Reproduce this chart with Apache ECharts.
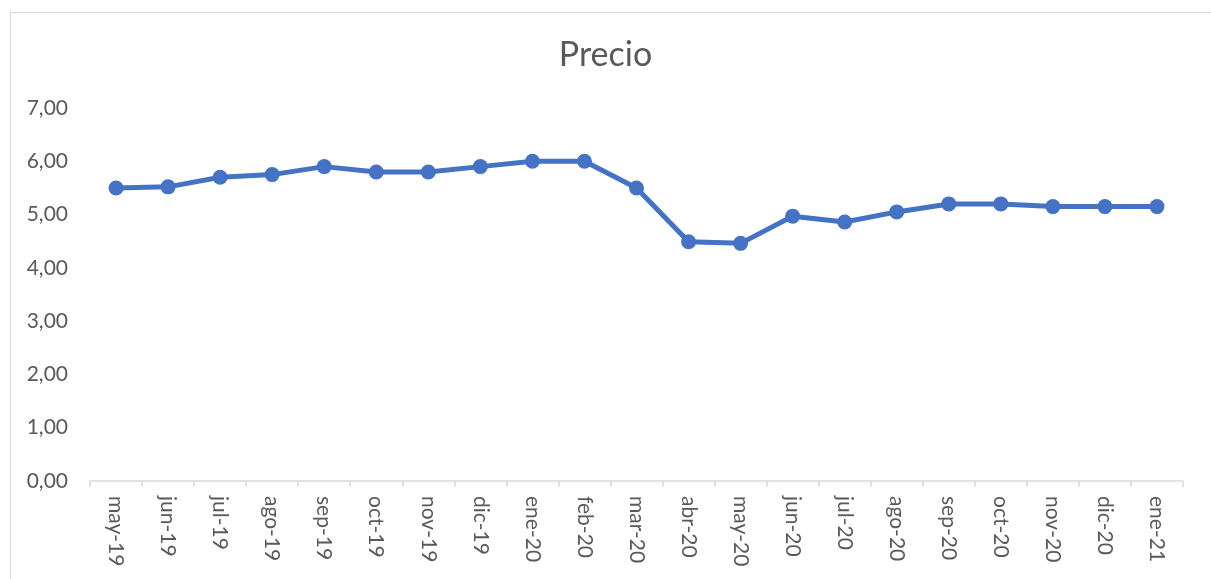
<!DOCTYPE html>
<html>
<head>
<meta charset="utf-8">
<script src="https://cdn.jsdelivr.net/npm/echarts@6/dist/echarts.min.js"></script>
<style>
html,body{margin:0;padding:0;background:#fff;}
#chart{width:1211px;height:579px;}
</style>
</head>
<body>
<div id="chart"></div>
<script>
const categories = ['may-19','jun-19','jul-19','ago-19','sep-19','oct-19','nov-19','dic-19','ene-20','feb-20','mar-20','abr-20','may-20','jun-20','jul-20','ago-20','sep-20','oct-20','nov-20','dic-20','ene-21'];
const precio = [5.50,5.52,5.70,5.75,5.90,5.80,5.80,5.90,6.00,6.00,5.50,4.49,4.46,4.97,4.86,5.05,5.20,5.20,5.15,5.15,5.15];
const yTickLabels = ['0,00','1,00','2,00','3,00','4,00','5,00','6,00','7,00'];

const chart = echarts.init(document.getElementById('chart'), null, {renderer:'canvas'});
const font = 'Lato, "Open Sans", sans-serif';
chart.setOption({
  backgroundColor:'#fff',
  animation:false,
  graphic:[{
    type:'rect', left:8, top:10, silent:true,
    shape:{width:1260, height:620},
    style:{fill:'none', stroke:'#d9d9d9', lineWidth:1}
  }],
  title:{
    text:'Precio', left:'center', top:33,
    textStyle:{fontFamily:font, fontSize:34, fontWeight:'normal', color:'#595959'}
  },
  grid:{left:90, right:28, top:108, bottom:98, containLabel:false},
  xAxis:{
    type:'category', data:categories, boundaryGap:true,
    axisLine:{lineStyle:{color:'#d9d9d9', width:1.5}},
    axisTick:{show:true, length:6, lineStyle:{color:'#d9d9d9', width:1.5}},
    axisLabel:{rotate:-90, interval:0, margin:15, color:'#595959', fontFamily:font, fontSize:21}
  },
  yAxis:{
    type:'value', min:0, max:7, interval:1,
    axisLine:{show:false}, axisTick:{show:false},
    splitLine:{show:false},
    axisLabel:{margin:22, color:'#595959', fontFamily:font, fontSize:21,
      formatter:(v)=>yTickLabels[Math.round(v)]}
  },
  series:[{
    type:'line', data:precio, name:'Precio',
    symbol:'circle', symbolSize:15,
    lineStyle:{color:'#4472C4', width:5},
    itemStyle:{color:'#4472C4'}
  }]
});
</script>
</body>
</html>
